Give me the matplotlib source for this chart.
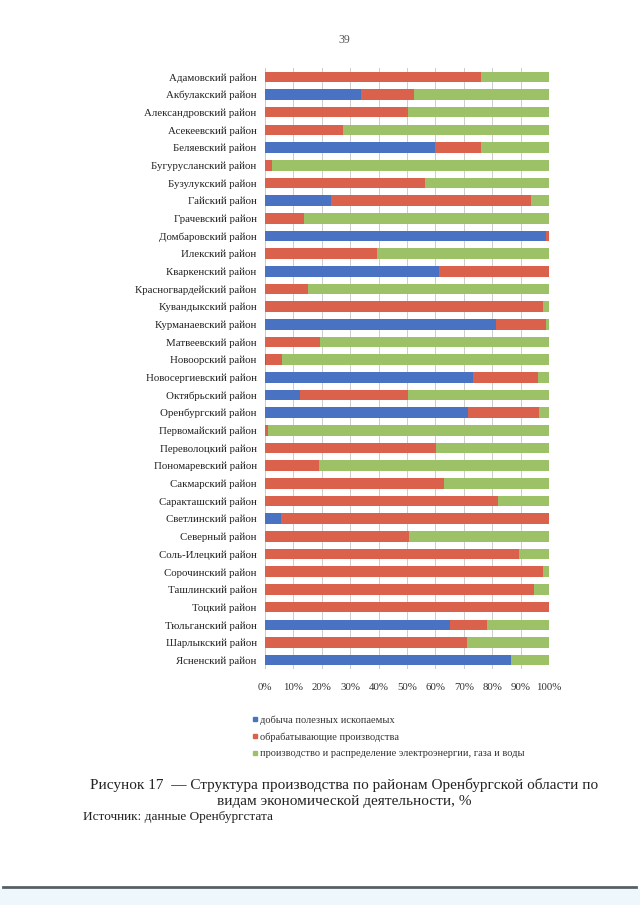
import numpy as np
import matplotlib.pyplot as plt
from matplotlib.lines import Line2D

plt.rcParams['font.family'] = ['Liberation Serif', 'DejaVu Serif']

districts = ['Адамовский район', 'Акбулакский район', 'Александровский район',
             'Асекеевский район', 'Беляевский район', 'Бугурусланский район',
             'Бузулукский район', 'Гайский район', 'Грачевский район',
             'Домбаровский район', 'Илекский район', 'Кваркенский район',
             'Красногвардейский район', 'Кувандыкский район', 'Курманаевский район',
             'Матвеевский район', 'Новоорский район', 'Новосергиевский район',
             'Октябрьский район', 'Оренбургский район', 'Первомайский район',
             'Переволоцкий район', 'Пономаревский район', 'Сакмарский район',
             'Саракташский район', 'Светлинский район', 'Северный район',
             'Соль-Илецкий район', 'Сорочинский район', 'Ташлинский район',
             'Тоцкий район', 'Тюльганский район', 'Шарлыкский район', 'Ясненский район']

# добыча полезных ископаемых
mining = [0, 33.8, 0, 0, 59.9, 0, 0, 23.4, 0, 98.9, 0, 61.2, 0, 0, 81.3, 0, 0.5,
          73.4, 12.3, 71.5, 0, 0, 0, 0, 0, 5.6, 0, 0, 0, 0, 0, 65.1, 0, 86.6]
# обрабатывающие производства
manuf = [76.0, 18.8, 50.4, 27.5, 16.2, 2.6, 56.5, 70.3, 13.7, 1.1, 39.4, 38.8,
         15.1, 97.9, 17.6, 19.4, 5.5, 22.7, 38.1, 25.0, 0.9, 60.2, 19.0, 63.0,
         82.0, 94.4, 50.6, 89.6, 98.0, 94.8, 100.0, 13.1, 71.1, 0]
# производство и распределение электроэнергии, газа и воды
energy = [24.0, 47.4, 49.6, 72.5, 23.9, 97.4, 43.5, 6.3, 86.3, 0, 60.6, 0,
          84.9, 2.1, 1.1, 80.6, 94.0, 3.9, 49.6, 3.5, 99.1, 39.8, 81.0, 37.0,
          18.0, 0, 49.4, 10.4, 2.0, 5.2, 0, 21.8, 28.9, 13.4]

legend_labels = ['добыча полезных ископаемых', 'обрабатывающие производства',
                 'производство и распределение электроэнергии, газа и воды']
colors = ['#4A72C2', '#DA624C', '#9CC166']

fig = plt.figure(figsize=(6.4, 9.05), dpi=100)
ax = fig.add_axes([265/640, 1-669/905, 284/640, 601/905])

y = np.arange(len(districts))
m = np.array(mining)
r = np.array(manuf)
g = np.array(energy)
ax.barh(y, m, height=0.6, color=colors[0])
ax.barh(y, r, left=m, height=0.6, color=colors[1])
ax.barh(y, g, left=m + r, height=0.6, color=colors[2])

ax.set_xlim(0, 100)
ax.set_ylim(len(districts) - 0.5, -0.5)
ax.set_xticks(np.arange(0, 101, 10))
ax.set_xticklabels([f'{v}%' for v in range(0, 101, 10)], fontsize=7.8, color='#333333')
ax.set_yticks(y)
ax.set_yticklabels(districts, fontsize=7.8, color='#222222')
ax.tick_params(axis='both', length=0, pad=10)
ax.tick_params(axis='y', pad=6)
ax.grid(axis='x', color='#cccccc', lw=0.7)
ax.set_axisbelow(True)
for s in ax.spines.values():
    s.set_visible(False)
ax.axvline(0, color='#bbbbbb', lw=0.7, zorder=0)

# легенда
handles = [Line2D([], [], marker='s', ls='', color=c, markersize=3.5) for c in colors]
fig.legend(handles, legend_labels, loc='upper left', bbox_to_anchor=(242/640, 1-706/905),
           frameon=False, fontsize=7.5, handlelength=0.6, handletextpad=0.2,
           labelspacing=0.7, labelcolor='#333333')

fig.text(344/640, 1-40/905, '39', ha='center', va='center', fontsize=8.5, color='#555555')
fig.text(344/640, 1-785/905,
         'Рисунок 17  — Структура производства по районам Оренбургской области по',
         ha='center', va='center', fontsize=11.0, color='#222222')
fig.text(344/640, 1-801/905, 'видам экономической деятельности, %',
         ha='center', va='center', fontsize=11.0, color='#222222')
fig.text(83/640, 1-817/905, 'Источник: данные Оренбургстата',
         ha='left', va='center', fontsize=9.5, color='#222222')

# нижний край страницы
fig.add_artist(Line2D([3/640, 636/640], [1-887/905, 1-887/905], color='#556066', lw=2.0))
fig.patches.append(plt.Rectangle((0, 0), 1, 1-889/905, transform=fig.transFigure,
                                 color='#eef8fc', zorder=-1))

fig.savefig('out.png', dpi=100)
